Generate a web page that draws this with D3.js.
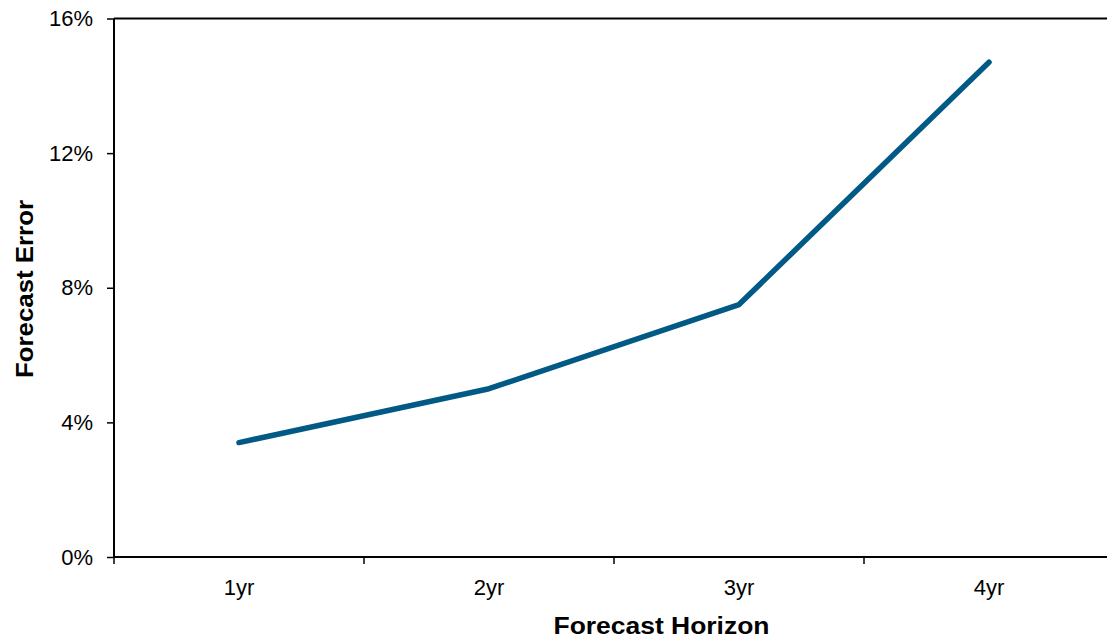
<!DOCTYPE html>
<html><head><meta charset="utf-8">
<script src="https://cdn.jsdelivr.net/npm/d3@7"></script>
<style>html,body{margin:0;padding:0;background:#fff;overflow:hidden}</style>
</head><body>
<svg id="c" width="1107" height="639"></svg>
<script>
const categories = ["1yr","2yr","3yr","4yr"];
const values = [3.4, 5.0, 7.5, 14.7];
const yTicks = [0, 4, 8, 12, 16];
const xTitle = "Forecast Horizon";
const yTitle = "Forecast Error";

const svg = d3.select("#c");
const L = 114, T = 18.5, B = 557, R = 1114;
const x = d3.scaleBand().domain(categories).range([L, R]).padding(0);
const y = d3.scaleLinear().domain([0, 16]).range([B, T]);
const font = "Liberation Sans, Arial, sans-serif";

// top border
svg.append("line").attr("x1", L).attr("x2", 1107).attr("y1", T).attr("y2", T)
  .attr("stroke", "#000").attr("stroke-width", 2);

// y axis
const ya = svg.append("g").attr("transform", `translate(${L},0)`)
  .call(d3.axisLeft(y).tickValues(yTicks).tickFormat(d => d + "%").tickSize(7).tickPadding(14));
ya.select(".domain").attr("stroke", "#000").attr("stroke-width", 2).attr("d", `M0,${B}V${T}`);
ya.selectAll(".tick line").attr("stroke", "#000").attr("stroke-width", 1.5);
ya.selectAll(".tick text").attr("font-family", font).attr("font-size", 22).attr("fill", "#000");

// x axis
const xa = svg.append("g").attr("transform", `translate(0,${B})`)
  .call(d3.axisBottom(x).tickSize(0).tickPadding(22));
xa.select(".domain").attr("stroke", "#000").attr("stroke-width", 2).attr("d", `M${L},0H${R}`);
xa.selectAll(".tick text").attr("font-family", font).attr("font-size", 22).attr("fill", "#000");
// boundary ticks between categories
const bounds = categories.map(c => x(c)).concat([x(categories[categories.length-1]) + x.bandwidth()]);
xa.selectAll(".btick").data(bounds).join("line").attr("class","btick")
  .attr("x1", d => d).attr("x2", d => d).attr("y1", 0).attr("y2", 7)
  .attr("stroke", "#000").attr("stroke-width", 1.5);

// line
const line = d3.line().x((d, i) => x(categories[i]) + x.bandwidth() / 2).y(d => y(d));
svg.append("path").datum(values).attr("d", line)
  .attr("fill", "none").attr("stroke", "#005a85").attr("stroke-width", 5.5)
  .attr("stroke-linecap", "round").attr("stroke-linejoin", "round");

// titles
svg.append("text").attr("x", (553 + 770) / 2).attr("y", 634)
  .attr("text-anchor", "middle").attr("font-family", font).attr("font-weight", "bold")
  .attr("font-size", 23).attr("textLength", 216).attr("lengthAdjust", "spacingAndGlyphs").text(xTitle);
svg.append("text").attr("transform", "translate(33,289) rotate(-90)")
  .attr("text-anchor", "middle").attr("font-family", font).attr("font-weight", "bold")
  .attr("font-size", 24).attr("textLength", 178).attr("lengthAdjust", "spacingAndGlyphs").text(yTitle);
</script>
</body></html>
